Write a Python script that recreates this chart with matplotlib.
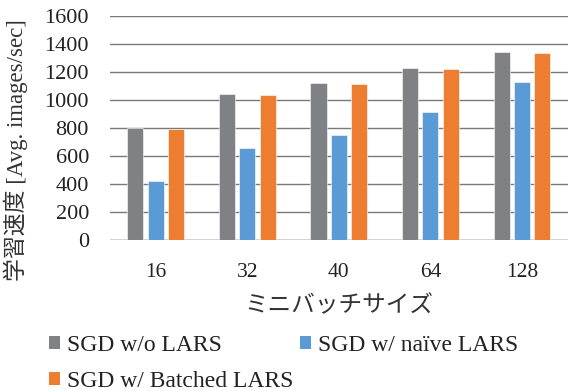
import numpy as np
import matplotlib.pyplot as plt
from matplotlib.patches import Patch

batch_sizes = ["16", "32", "40", "64", "128"]
sgd_plain = [800, 1043, 1121, 1226, 1343]
sgd_naive = [421, 659, 748, 914, 1129]
sgd_batched = [791, 1036, 1114, 1219, 1338]

series_names = ["SGD w/o LARS", "SGD w/ naïve LARS", "SGD w/ Batched LARS"]
colors = ["#808184", "#5B9BD5", "#ED7D31"]

plt.rcParams['font.family'] = ['Liberation Serif', 'Noto Sans CJK JP']

fig = plt.figure(figsize=(5.69, 3.91), dpi=100)
ax = fig.add_axes([0.193, 0.386, 0.805, 0.573])

x = np.arange(len(batch_sizes))
w = 0.175
off = 0.222
for i, (vals, c) in enumerate(zip([sgd_plain, sgd_naive, sgd_batched], colors)):
    ax.bar(x + (i - 1) * off, vals, w, color=c, edgecolor='white', linewidth=0.4, zorder=3)

ax.set_xlim(-0.5, 4.5)
ax.set_ylim(0, 1600)
ax.set_yticks(range(0, 1601, 200))
ax.set_xticks(x)
ax.set_xticklabels(batch_sizes)
ax.grid(axis='y', color='#7a7a7a', linewidth=1.0, zorder=0)
ax.axhline(0, color='#d0d0d0', linewidth=1.2, zorder=2)
for s in ax.spines.values():
    s.set_visible(False)
ax.tick_params(length=0, colors='#222222')
ax.tick_params(axis='y', pad=15, labelsize=16)
ax.tick_params(axis='x', pad=16.5, labelsize=15.5)

ax.set_ylabel("学習速度 [Avg. images/sec]", fontsize=16.5, color='#333333')
ax.yaxis.set_label_coords(-0.179, 0.40)
ax.set_xlabel("ミニバッチサイズ", fontsize=17, color='#333333', labelpad=10)

# row-wise legend: plain, naive on the first row, batched below
handles = [Patch(facecolor=c) for c in colors]
order = [0, 2, 1]
fig.legend([handles[k] for k in order], [series_names[k] for k in order],
           loc='upper left', bbox_to_anchor=(0.049, 0.198),
           ncol=2, frameon=False, fontsize=17, handlelength=0.47, handleheight=0.47,
           handletextpad=0.3, columnspacing=0.25, labelspacing=0.65,
           labelcolor='#222222')

fig.savefig("out.png", dpi=100)
